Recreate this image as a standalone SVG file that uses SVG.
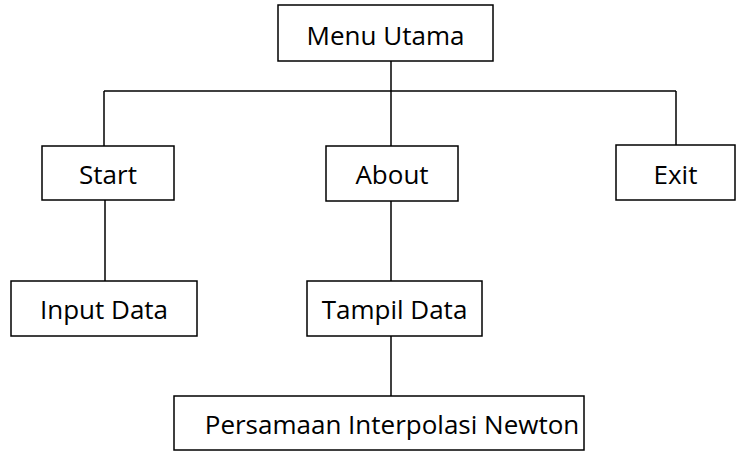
<svg xmlns="http://www.w3.org/2000/svg" width="737" height="451" viewBox="0 0 737 451">
<style>
rect{fill:#fff;stroke:#000;stroke-width:1.5}
text{font-family:"Open Sans","Liberation Sans",sans-serif;font-size:26px;fill:#000;text-anchor:middle}
.c line{stroke:#000;stroke-width:1.5}
</style>
<rect x="0" y="0" width="737" height="451" style="stroke:none"/>
<g class="c" id="connectors">
<line x1="391" y1="61" x2="391" y2="91"/>
<line x1="104" y1="91" x2="676" y2="91"/>
<line x1="104" y1="91" x2="104" y2="146"/>
<line x1="391" y1="91" x2="391" y2="146"/>
<line x1="676" y1="91" x2="676" y2="145"/>
<line x1="105" y1="200" x2="105" y2="281"/>
<line x1="391" y1="201" x2="391" y2="281"/>
<line x1="391" y1="336" x2="391" y2="396"/>
</g>
<g id="menu"><rect x="278" y="5" width="215" height="56"/><text x="385.5" y="45">Menu Utama</text></g>
<g id="start"><rect x="42" y="146" width="132" height="54"/><text x="108" y="184">Start</text></g>
<g id="about"><rect x="326" y="146" width="132" height="55"/><text x="392" y="184">About</text></g>
<g id="exit"><rect x="616" y="145" width="119" height="55"/><text x="675.5" y="184">Exit</text></g>
<g id="input"><rect x="11" y="281" width="186" height="55"/><text x="104" y="319">Input Data</text></g>
<g id="tampil"><rect x="307" y="281" width="175" height="55"/><text x="394.5" y="319">Tampil Data</text></g>
<g id="persamaan"><rect x="174" y="396" width="410" height="54"/><text x="392" y="434">Persamaan Interpolasi Newton</text></g>
</svg>
